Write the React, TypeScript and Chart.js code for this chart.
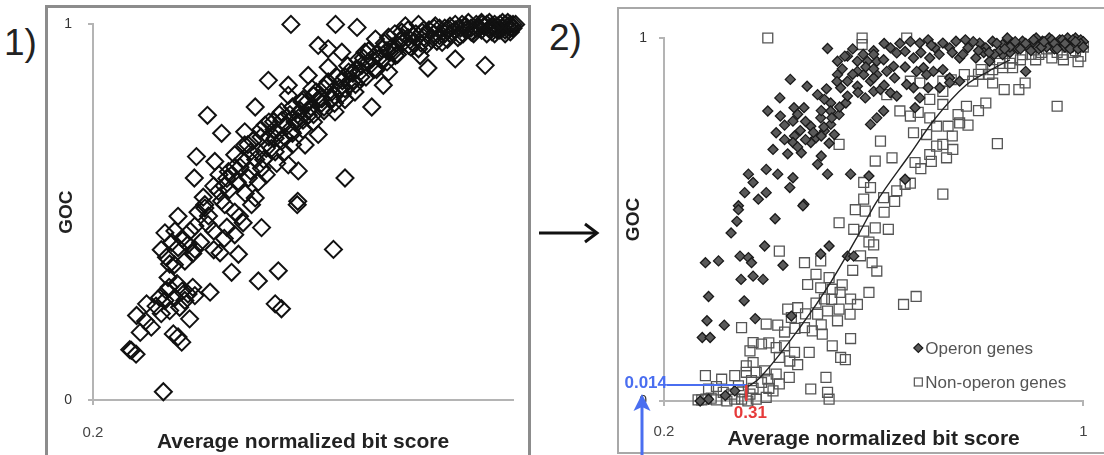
import React, { useEffect, useRef } from 'react';
import { Chart, registerables } from 'chart.js';

Chart.register(...registerables);

const FONT = "'Liberation Sans', Arial, Helvetica, sans-serif";

// ---------- DATA ----------
const yTicks = [0, 1];
const panel1XTicks = [0.2];
const panel2XTicks = [0.2, 1];
const xTitle = 'Average normalized bit score';
const yTitle = 'GOC';
const legendLabels = ['Operon genes', 'Non-operon genes'];
const cutoffX = 0.357;
const cutoffY = 0.044;
const cutoffXLabel = '0.31';
const cutoffYLabel = '0.014';

// Panel 1: all genes (average normalized bit score, GOC)
const allGenes: number[][] = [
  [0.577, 1.0], [0.662, 1.0], [0.703, 0.992], [0.629, 0.944], [0.534, 0.851], [0.418, 0.758], [0.731, 0.78],
  [0.68, 0.591], [0.59, 0.529], [0.947, 0.891], [0.89, 0.908], [0.838, 0.884], [0.823, 0.917], [0.604, 0.679],
  [0.629, 0.707], [0.445, 0.71], [0.397, 0.648], [0.393, 0.591], [0.572, 0.626], [0.591, 0.61], [0.509, 0.78],
  [0.661, 0.767], [0.763, 0.873], [0.753, 0.838], [0.738, 0.961], [0.763, 0.966], [0.788, 0.979], [0.648, 0.886],
  [0.61, 0.864], [0.572, 0.811], [0.544, 0.741], [0.489, 0.714], [0.47, 0.653], [0.432, 0.635], [0.515, 0.661],
  [0.496, 0.591], [0.439, 0.556], [0.413, 0.52], [0.509, 0.538], [0.547, 0.697], [0.591, 0.741], [0.636, 0.802],
  [0.68, 0.829], [0.712, 0.891], [0.674, 0.926], [0.718, 0.926], [0.699, 0.82], [0.801, 0.944], [0.827, 0.979],
  [0.852, 0.996], [0.865, 0.952], [0.877, 0.988], [0.903, 1.0], [0.922, 0.979], [0.941, 1.0], [0.96, 0.996],
  [0.82, 1.0], [0.795, 0.996], [0.648, 0.935], [0.617, 0.829], [0.598, 0.794], [0.559, 0.767], [0.528, 0.732],
  [0.489, 0.679], [0.458, 0.608], [0.521, 0.617], [0.547, 0.661], [0.578, 0.714], [0.61, 0.758], [0.648, 0.847],
  [0.687, 0.873], [0.731, 0.908], [0.75, 0.935], [0.776, 0.917], [0.572, 0.838],
  [0.334, 0.022], [0.273, 0.132], [0.282, 0.122], [0.27, 0.134], [0.311, 0.194], [0.283, 0.225], [0.302, 0.256],
  [0.353, 0.176], [0.369, 0.154], [0.362, 0.168], [0.384, 0.216], [0.337, 0.265], [0.356, 0.273], [0.375, 0.265],
  [0.394, 0.278], [0.423, 0.287], [0.365, 0.247], [0.346, 0.238], [0.343, 0.326], [0.346, 0.362], [0.362, 0.406],
  [0.394, 0.401], [0.381, 0.414], [0.337, 0.445], [0.356, 0.45], [0.362, 0.489], [0.394, 0.463], [0.419, 0.467],
  [0.413, 0.511], [0.442, 0.392], [0.477, 0.388], [0.464, 0.34], [0.515, 0.317], [0.553, 0.344], [0.547, 0.256],
  [0.559, 0.243], [0.658, 0.401], [0.521, 0.459], [0.486, 0.472], [0.479, 0.489], [0.502, 0.52], [0.589, 0.52],
  [0.451, 0.52], [0.327, 0.273], [0.381, 0.282], [0.34, 0.291],
  [0.455, 0.59], [0.47, 0.62], [0.485, 0.64], [0.5, 0.66], [0.505, 0.69], [0.52, 0.7], [0.535, 0.7], [0.53, 0.67],
  [0.545, 0.72], [0.56, 0.745], [0.565, 0.7], [0.575, 0.76], [0.585, 0.74], [0.595, 0.77], [0.605, 0.79],
  [0.615, 0.78], [0.62, 0.81], [0.63, 0.8], [0.64, 0.83], [0.655, 0.82], [0.665, 0.86], [0.675, 0.85],
  [0.685, 0.89], [0.695, 0.87], [0.705, 0.905], [0.715, 0.91], [0.725, 0.93], [0.74, 0.92], [0.755, 0.95],
  [0.77, 0.94], [0.785, 0.955], [0.8, 0.965], [0.81, 0.95], [0.815, 0.975], [0.83, 0.965], [0.84, 0.985],
  [0.85, 0.975], [0.86, 0.99], [0.87, 0.975], [0.88, 0.995], [0.89, 0.985], [0.9, 0.99], [0.91, 0.995],
  [0.92, 0.99], [0.93, 1.0], [0.935, 0.99], [0.945, 0.995], [0.95, 1.0], [0.955, 0.99], [0.965, 1.0],
  [0.97, 0.995], [0.975, 1.0], [0.98, 0.99], [0.985, 1.0], [0.99, 0.995], [0.995, 1.0], [1.0, 1.0], [0.995, 0.99],
  [0.985, 0.985], [0.97, 0.985], [0.96, 0.98], [0.94, 0.985], [0.92, 0.98], [0.905, 0.975], [0.895, 0.965],
  [0.875, 0.96], [0.855, 0.955], [0.835, 0.945], [0.82, 0.935],
  [0.43, 0.57], [0.445, 0.53], [0.46, 0.56], [0.475, 0.58], [0.41, 0.54], [0.42, 0.49], [0.4, 0.5], [0.385, 0.45],
  [0.37, 0.43], [0.35, 0.42], [0.33, 0.4], [0.34, 0.38], [0.355, 0.36], [0.375, 0.37], [0.39, 0.39], [0.405, 0.42],
  [0.43, 0.45], [0.455, 0.46], [0.47, 0.5], [0.49, 0.55], [0.515, 0.58], [0.53, 0.6], [0.55, 0.63], [0.565, 0.66],
  [0.58, 0.68], [0.6, 0.72], [0.62, 0.74], [0.64, 0.77], [0.66, 0.79], [0.68, 0.8], [0.7, 0.84], [0.72, 0.86],
  [0.74, 0.88], [0.76, 0.9], [0.78, 0.92], [0.345, 0.3], [0.36, 0.31], [0.37, 0.29], [0.39, 0.3], [0.32, 0.25],
  [0.33, 0.23], [0.3, 0.21], [0.29, 0.18], [0.43, 0.4], [0.45, 0.43], [0.47, 0.44],
  [0.52, 0.72], [0.535, 0.74], [0.55, 0.71], [0.555, 0.76], [0.57, 0.73], [0.58, 0.78], [0.59, 0.76], [0.6, 0.8],
  [0.61, 0.77], [0.625, 0.82], [0.635, 0.79], [0.645, 0.84], [0.655, 0.8], [0.67, 0.83], [0.68, 0.86], [0.69, 0.84],
  [0.7, 0.88], [0.71, 0.86], [0.725, 0.9], [0.735, 0.88], [0.745, 0.91], [0.76, 0.93], [0.775, 0.93], [0.79, 0.95],
  [0.805, 0.94], [0.495, 0.68], [0.51, 0.64], [0.48, 0.62], [0.465, 0.6], [0.45, 0.57], [0.44, 0.6], [0.5, 0.61],
  [0.525, 0.64], [0.54, 0.67], [0.56, 0.69], [0.58, 0.71], [0.6, 0.745], [0.62, 0.76], [0.64, 0.78], [0.66, 0.81],
  [0.675, 0.815], [0.695, 0.85], [0.71, 0.875], [0.73, 0.895], [0.75, 0.905], [0.765, 0.925],
  [0.87, 0.99], [0.88, 0.975], [0.89, 1.0], [0.9, 0.97], [0.91, 0.985], [0.915, 1.005], [0.925, 0.975],
  [0.93, 0.99], [0.94, 1.005], [0.95, 0.975], [0.955, 1.005], [0.96, 0.99], [0.965, 0.975], [0.975, 0.985],
  [0.98, 1.005], [0.985, 0.975], [0.99, 1.005], [0.995, 0.98], [1.0, 0.99], [1.005, 1.0], [0.86, 0.97],
  [0.85, 0.99], [0.845, 0.96], [0.83, 0.985], [0.825, 0.95], [0.81, 0.97], [0.8, 0.985], [0.79, 0.965],
  [0.775, 0.975],
];

// Panel 2: operon genes
const operonGenes: number[][] = [
  [0.512, 0.971], [0.441, 0.886], [0.473, 0.867], [0.421, 0.835], [0.398, 0.799], [0.422, 0.785], [0.448, 0.808],
  [0.467, 0.808], [0.446, 0.771], [0.414, 0.739], [0.449, 0.73], [0.446, 0.712], [0.408, 0.693], [0.436, 0.681],
  [0.462, 0.684], [0.48, 0.712], [0.5, 0.675], [0.493, 0.652], [0.361, 0.625], [0.395, 0.638], [0.417, 0.625],
  [0.37, 0.602], [0.446, 0.615], [0.44, 0.588], [0.354, 0.574], [0.38, 0.556], [0.395, 0.574], [0.342, 0.538],
  [0.467, 0.542], [0.512, 0.625], [0.556, 0.625], [0.591, 0.62], [0.66, 0.611], [0.594, 0.762], [0.606, 0.78],
  [0.619, 0.799], [0.679, 0.808], [0.531, 0.936], [0.531, 0.899], [0.569, 0.936], [0.588, 0.936], [0.606, 0.936],
  [0.619, 0.94], [0.638, 0.922], [0.569, 0.908], [0.581, 0.899], [0.55, 0.881], [0.537, 0.863], [0.569, 0.867],
  [0.594, 0.881], [0.606, 0.899], [0.625, 0.908], [0.584, 0.835], [0.6, 0.853], [0.613, 0.858], [0.518, 0.821],
  [0.547, 0.821], [0.493, 0.844], [0.506, 0.831], [0.518, 0.799], [0.499, 0.78], [0.518, 0.762], [0.534, 0.789],
  [0.48, 0.757], [0.506, 0.744], [0.525, 0.734], [0.49, 0.725], [0.632, 0.973], [0.644, 0.959], [0.66, 0.963],
  [0.676, 0.945], [0.688, 0.986], [0.704, 0.995], [0.717, 0.973], [0.732, 0.986], [0.745, 0.973], [0.757, 0.991],
  [0.707, 0.945], [0.695, 0.918], [0.714, 0.908], [0.732, 0.913], [0.745, 0.89], [0.764, 0.945], [0.78, 0.973],
  [0.802, 0.986], [0.814, 0.973], [0.827, 0.991], [0.846, 0.982], [0.865, 0.986], [0.884, 0.991], [0.903, 0.986],
  [0.922, 0.991], [0.941, 0.982], [0.959, 0.986], [0.795, 0.945], [0.821, 0.936], [0.846, 0.954], [0.89, 0.908],
  [0.764, 0.881], [0.745, 0.877], [0.726, 0.863], [0.704, 0.863], [0.676, 0.863], [0.663, 0.872], [0.632, 0.849],
  [0.644, 0.84], [0.688, 0.835], [0.701, 0.899], [0.682, 0.908],
  [0.342, 0.527], [0.339, 0.495], [0.328, 0.463], [0.412, 0.502], [0.465, 0.538], [0.392, 0.427], [0.279, 0.381],
  [0.304, 0.386], [0.345, 0.399], [0.361, 0.395], [0.367, 0.381], [0.427, 0.374], [0.347, 0.335], [0.37, 0.344],
  [0.389, 0.335], [0.285, 0.288], [0.353, 0.276], [0.282, 0.221], [0.315, 0.209], [0.374, 0.227], [0.273, 0.175],
  [0.288, 0.175], [0.515, 0.427], [0.55, 0.399], [0.562, 0.399], [0.443, 0.234], [0.335, 0.028], [0.285, 0.005],
  [0.269, 0.0], [0.317, 0.015], [0.499, 0.405],
  [0.975, 0.99], [0.98, 0.975], [0.985, 1.0], [0.99, 0.985], [0.995, 0.995], [1.0, 0.99], [0.97, 1.0],
  [0.965, 0.975], [0.955, 0.995], [0.945, 0.97], [0.935, 1.0], [0.93, 0.975], [0.915, 0.97], [0.91, 1.0],
  [0.895, 0.975], [0.875, 0.97], [0.86, 0.96], [0.855, 1.0], [0.84, 0.965], [0.83, 0.955], [0.81, 0.96],
  [0.79, 0.99], [0.775, 0.995], [0.77, 0.955], [0.75, 0.96], [0.725, 0.955], [0.71, 0.98], [0.69, 0.96],
  [0.67, 0.99], [0.65, 0.985], [0.62, 0.985], [0.6, 0.965], [0.58, 0.955], [0.55, 0.95], [0.56, 0.97],
  [0.54, 0.915], [0.6, 0.89], [0.62, 0.87], [0.64, 0.89], [0.66, 0.92], [0.455, 0.79], [0.47, 0.77], [0.5, 0.8],
  [0.505, 0.755], [0.485, 0.74], [0.46, 0.745], [0.43, 0.76], [0.52, 0.78], [0.535, 0.81], [0.51, 0.86],
  [0.55, 0.84], [0.57, 0.85], [0.53, 0.88],
  [0.88, 0.97], [0.89, 0.985], [0.9, 0.965], [0.905, 0.995], [0.92, 0.975], [0.925, 0.99], [0.94, 0.995],
  [0.945, 0.985], [0.95, 0.97], [0.96, 0.995], [0.965, 0.985], [0.975, 0.97], [0.98, 0.995], [0.99, 0.97],
  [0.995, 0.985], [1.0, 0.975], [0.985, 0.99], [0.87, 0.99], [0.86, 0.975], [0.85, 0.97], [0.835, 0.985],
  [0.82, 0.96], [0.8, 0.965], [0.47, 0.72], [0.455, 0.7], [0.43, 0.72], [0.5, 0.73], [0.515, 0.71], [0.56, 0.9],
  [0.585, 0.92], [0.6, 0.915], [0.545, 0.95], [0.6, 0.955],
];

// Panel 2: non-operon genes
const nonOperonGenes: number[][] = [
  [0.398, 1.0], [0.578, 1.0], [0.578, 0.982], [0.663, 1.0], [0.534, 0.707], [0.613, 0.716], [0.603, 0.661],
  [0.635, 0.67], [0.679, 0.657], [0.65, 0.799], [0.676, 0.739], [0.701, 0.734], [0.72, 0.702], [0.707, 0.679],
  [0.732, 0.707], [0.751, 0.693], [0.739, 0.67], [0.836, 0.709], [0.814, 0.821], [0.777, 0.812], [0.761, 0.789],
  [0.72, 0.757], [0.742, 0.757], [0.764, 0.766], [0.707, 0.78], [0.732, 0.817], [0.732, 0.853], [0.707, 0.831],
  [0.67, 0.785], [0.685, 0.795], [0.95, 0.812], [0.849, 0.858], [0.877, 0.858], [0.889, 0.876], [0.827, 0.876],
  [0.805, 0.913], [0.827, 0.913], [0.846, 0.918], [0.865, 0.918], [0.909, 0.94], [0.962, 0.94], [0.789, 0.881],
  [0.688, 0.876], [0.67, 0.881], [0.732, 0.57], [0.581, 0.602], [0.594, 0.588], [0.619, 0.56], [0.581, 0.556],
  [0.644, 0.579], [0.66, 0.597], [0.625, 0.844], [0.732, 0.881], [0.748, 0.885], [0.773, 0.899], [0.865, 0.945],
  [0.884, 0.954],
  [0.565, 0.527], [0.584, 0.523], [0.534, 0.491], [0.562, 0.473], [0.581, 0.468], [0.603, 0.477], [0.628, 0.473],
  [0.591, 0.438], [0.42, 0.413], [0.468, 0.381], [0.499, 0.386], [0.49, 0.349], [0.515, 0.34], [0.474, 0.321],
  [0.499, 0.312], [0.521, 0.308], [0.536, 0.299], [0.597, 0.381], [0.606, 0.358], [0.591, 0.299], [0.657, 0.266],
  [0.681, 0.288], [0.436, 0.253], [0.455, 0.257], [0.443, 0.23], [0.493, 0.239], [0.512, 0.248], [0.534, 0.253],
  [0.555, 0.239], [0.531, 0.221], [0.395, 0.212], [0.417, 0.209], [0.468, 0.202], [0.483, 0.193], [0.502, 0.184],
  [0.556, 0.172], [0.348, 0.202], [0.37, 0.161], [0.386, 0.157], [0.364, 0.138], [0.414, 0.147], [0.43, 0.152],
  [0.449, 0.134], [0.477, 0.134], [0.521, 0.152], [0.537, 0.12], [0.546, 0.114], [0.335, 0.07], [0.357, 0.097],
  [0.357, 0.079], [0.376, 0.079], [0.392, 0.083], [0.414, 0.074], [0.439, 0.065], [0.386, 0.051], [0.408, 0.028],
  [0.364, 0.019], [0.376, 0.005], [0.348, 0.005], [0.329, 0.019], [0.313, 0.024], [0.285, 0.033], [0.279, 0.07],
  [0.48, 0.033], [0.509, 0.065], [0.512, 0.024], [0.515, 0.005], [0.37, 0.106], [0.367, 0.056], [0.342, 0.042],
  [0.42, 0.047], [0.398, 0.06], [0.556, 0.281], [0.569, 0.266], [0.506, 0.281],
  [0.265, 0.003], [0.272, 0.003], [0.28, 0.005], [0.29, 0.008], [0.3, 0.003], [0.32, 0.0], [0.335, 0.005],
  [0.36, 0.0], [0.395, 0.01], [0.4, 0.035], [0.37, 0.035], [0.35, 0.025], [0.3, 0.04], [0.31, 0.06],
  [0.93, 0.97], [0.95, 0.96], [0.97, 0.975], [0.985, 0.965], [1.0, 0.975], [0.915, 0.955], [0.94, 0.945],
  [0.9, 0.955], [0.92, 0.96], [0.96, 0.955], [0.98, 0.96], [0.995, 0.95], [0.88, 0.94], [0.86, 0.93],
  [0.84, 0.93], [0.82, 0.9], [0.8, 0.9], [0.99, 0.935],
  [0.45, 0.2], [0.47, 0.24], [0.49, 0.27], [0.43, 0.19], [0.4, 0.16], [0.42, 0.12], [0.455, 0.1], [0.44, 0.11],
  [0.5, 0.21], [0.52, 0.28], [0.54, 0.32], [0.56, 0.36], [0.575, 0.4], [0.6, 0.43], [0.62, 0.52], [0.64, 0.55],
  [0.67, 0.6], [0.69, 0.64], [0.71, 0.66], [0.75, 0.73], [0.78, 0.76], [0.8, 0.8],
];

// Panel 2: fitted trend line
const trendLine: number[][] = [
  [0.36, 0.04], [0.38, 0.06], [0.461, 0.206], [0.518, 0.327], [0.569, 0.453], [0.604, 0.545],
  [0.669, 0.679], [0.714, 0.772], [0.777, 0.871], [0.82, 0.909], [0.86, 0.94],
];

// ---------- helpers ----------
const toXY = (arr: number[][]) => arr.map(([x, y]) => ({ x, y }));
const AXIS_GRAY = '#b4b4b4';
const BLUE = '#4a6ef0';
const RED = '#e63a3a';

function xAxis(ticks: number[], tickPad: number, titlePadBottom: number, height: number) {
  return {
    type: 'linear',
    min: 0.2,
    max: 1,
    afterBuildTicks: (s: any) => { s.ticks = ticks.map((v) => ({ value: v })); },
    afterFit: (s: any) => { s.height = height; },
    grid: { display: true, drawOnChartArea: false, drawTicks: true, tickLength: 5, color: AXIS_GRAY, lineWidth: 2 },
    border: { display: true, color: AXIS_GRAY, width: 2 },
    ticks: {
      padding: tickPad, color: '#444', autoSkip: false, maxRotation: 0,
      font: { family: FONT, size: 15 },
      callback: (v: any) => String(v),
    },
    title: {
      display: true, text: xTitle, color: '#222',
      font: { family: FONT, size: 21, weight: 'bold' },
      padding: { top: 0, bottom: titlePadBottom },
    },
  };
}

function yAxis(tickPad: number, titlePadTop: number, width: number) {
  return {
    type: 'linear',
    min: 0,
    max: 1,
    afterBuildTicks: (s: any) => { s.ticks = yTicks.map((v) => ({ value: v })); },
    afterFit: (s: any) => { s.width = width; },
    grid: { display: true, drawOnChartArea: false, drawTicks: true, tickLength: 5, color: AXIS_GRAY, lineWidth: 2 },
    border: { display: true, color: AXIS_GRAY, width: 2 },
    ticks: {
      padding: tickPad, color: '#333', autoSkip: false,
      font: { family: FONT, size: 14 },
      callback: (v: any) => String(v),
    },
    title: {
      display: true, text: yTitle, color: '#222',
      font: { family: FONT, size: 19, weight: 'bold' },
      padding: { top: titlePadTop, bottom: 0 },
    },
  };
}

const annotationPlugin = {
  id: 'cutoffAnnotation',
  afterDraw(chart: any) {
    const { ctx, chartArea } = chart;
    const xs = chart.scales.x;
    const ys = chart.scales.y;
    const px = xs.getPixelForValue(cutoffX);
    const py = ys.getPixelForValue(cutoffY);
    ctx.save();
    ctx.strokeStyle = BLUE;
    ctx.lineWidth = 2;
    ctx.beginPath();
    ctx.moveTo(chartArea.left + 3, py);
    ctx.lineTo(px, py);
    ctx.stroke();
    ctx.strokeStyle = RED;
    ctx.lineWidth = 2.5;
    ctx.beginPath();
    ctx.moveTo(px, py);
    ctx.lineTo(px, chartArea.bottom);
    ctx.stroke();
    ctx.font = `bold 17px ${FONT}`;
    ctx.textBaseline = 'middle';
    ctx.fillStyle = BLUE;
    ctx.textAlign = 'right';
    ctx.fillText(cutoffYLabel, chartArea.left + 3, py - 2);
    ctx.fillStyle = RED;
    ctx.textAlign = 'center';
    ctx.fillText(cutoffXLabel, px + 4, chartArea.bottom + 12);
    const ax = chartArea.left - 22;
    ctx.strokeStyle = BLUE;
    ctx.lineWidth = 3;
    ctx.beginPath();
    ctx.moveTo(ax, chart.height);
    ctx.lineTo(ax, chartArea.bottom + 6);
    ctx.stroke();
    ctx.fillStyle = BLUE;
    ctx.beginPath();
    ctx.moveTo(ax, chartArea.bottom - 7);
    ctx.lineTo(ax - 8.5, chartArea.bottom + 10);
    ctx.lineTo(ax, chartArea.bottom + 6);
    ctx.lineTo(ax + 8.5, chartArea.bottom + 10);
    ctx.closePath();
    ctx.fill();
    const lx = chartArea.right - 165;
    const ly1 = chartArea.bottom - 53;
    const ly2 = chartArea.bottom - 19;
    ctx.fillStyle = '#5a5a5a';
    ctx.strokeStyle = '#1a1a1a';
    ctx.lineWidth = 1.2;
    ctx.beginPath();
    ctx.moveTo(lx - 4.5, ly1);
    ctx.lineTo(lx, ly1 - 4.5);
    ctx.lineTo(lx + 4.5, ly1);
    ctx.lineTo(lx, ly1 + 4.5);
    ctx.closePath();
    ctx.fill();
    ctx.stroke();
    ctx.strokeStyle = '#555';
    ctx.strokeRect(lx - 4, ly2 - 4, 8, 8);
    ctx.font = `17px ${FONT}`;
    ctx.fillStyle = '#555';
    ctx.textAlign = 'left';
    ctx.fillText(legendLabels[0], lx + 7, ly1 + 1);
    ctx.fillText(legendLabels[1], lx + 7, ly2 + 1);
    ctx.restore();
  },
};

export default function App() {
  const ref1 = useRef<HTMLCanvasElement>(null);
  const ref2 = useRef<HTMLCanvasElement>(null);

  useEffect(() => {
    const common = {
      animation: false,
      responsive: false,
      events: [],
      plugins: { legend: { display: false }, tooltip: { enabled: false } },
    };
    const c1 = new Chart(ref1.current as HTMLCanvasElement, {
      type: 'scatter',
      data: {
        datasets: [
          {
            label: 'All genes',
            data: toXY(allGenes),
            pointStyle: 'rectRot',
            pointRadius: 8.5,
            borderColor: '#111',
            borderWidth: 2,
            backgroundColor: 'rgba(255,255,255,0)',
            clip: false,
          },
        ],
      },
      options: {
        ...common,
        layout: { padding: { left: 33, right: 591, top: 22, bottom: 0 } },
        scales: {
          x: xAxis(panel1XTicks, 19, 0, 55),
          y: yAxis(16, 22, 60),
        },
      } as any,
    });
    const c2 = new Chart(ref2.current as HTMLCanvasElement, {
      type: 'scatter',
      data: {
        datasets: [
          {
            label: 'Trend',
            data: toXY(trendLine),
            showLine: true,
            pointRadius: 0,
            borderColor: '#222',
            borderWidth: 1.4,
            cubicInterpolationMode: 'monotone',
            clip: false,
          },
          {
            label: legendLabels[0],
            data: toXY(operonGenes),
            pointStyle: 'rectRot',
            pointRadius: 5,
            borderColor: '#1a1a1a',
            borderWidth: 1.3,
            backgroundColor: '#5a5a5a',
            clip: false,
          },
          {
            label: legendLabels[1],
            data: toXY(nonOperonGenes),
            pointStyle: 'rect',
            pointRadius: 7,
            borderColor: '#555',
            borderWidth: 1.3,
            backgroundColor: 'rgba(255,255,255,0)',
            clip: false,
          },
        ],
      },
      options: {
        ...common,
        layout: { padding: { left: 604, right: 16, top: 38, bottom: 0 } },
        scales: {
          x: xAxis(panel2XTicks, 16.5, 3.4, 54),
          y: yAxis(12, 18.6, 60),
        },
      } as any,
      plugins: [annotationPlugin],
    });
    return () => {
      c1.destroy();
      c2.destroy();
    };
  }, []);

  const abs: React.CSSProperties = { position: 'absolute' };
  return (
    <div style={{ position: 'fixed', left: 0, top: 0, width: 1104, height: 455, overflow: 'hidden', background: '#fff' }}>
      <div style={{ ...abs, left: 45, top: 5, width: 480, height: 480, border: '3px solid #8c8c8c' }} />
      <div style={{ ...abs, left: 617, top: 7, width: 500, height: 443, border: '2px solid #a8a8a8' }} />
      <div style={{ ...abs, left: 4, top: 24, font: `37px ${FONT}`, lineHeight: 1, color: '#222' }}>1)</div>
      <div style={{ ...abs, left: 549, top: 19, font: `37px ${FONT}`, lineHeight: 1, color: '#222' }}>2)</div>
      <svg style={{ ...abs, left: 0, top: 0 }} width={1104} height={455}>
        <line x1={539} y1={233} x2={596} y2={233} stroke="#111" strokeWidth={3} />
        <polyline points="585,224 597,233 585,242" fill="none" stroke="#111" strokeWidth={3} />
      </svg>
      <canvas ref={ref1} width={1104} height={455} style={{ ...abs, left: 0, top: 0, width: 1104, height: 455 }} />
      <canvas ref={ref2} width={1104} height={455} style={{ ...abs, left: 0, top: 0, width: 1104, height: 455 }} />
    </div>
  );
}
